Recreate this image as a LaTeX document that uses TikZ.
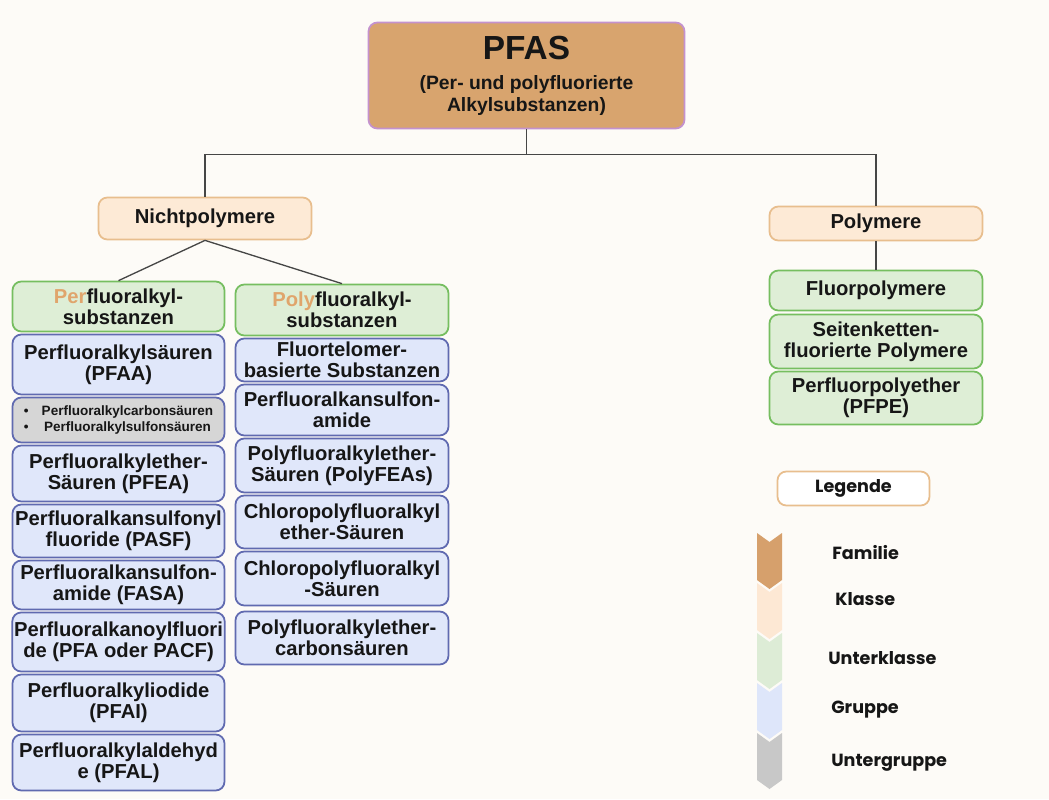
\documentclass[tikz,border=0pt]{standalone}
\usepackage{fontspec}
\setmainfont{Liberation Sans}
\newfontfamily\legfont{Poppins}

\definecolor{hgrund}{RGB}{253,251,247}
\definecolor{schrift}{RGB}{22,22,22}
\definecolor{akzent}{RGB}{224,165,108}
\definecolor{linie}{RGB}{70,70,70}
\definecolor{famfill}{RGB}{216,164,110}
\definecolor{famrand}{RGB}{196,146,206}
\definecolor{klfill}{RGB}{253,234,214}
\definecolor{klrand}{RGB}{232,190,142}
\definecolor{ukfill}{RGB}{222,238,214}
\definecolor{ukrand}{RGB}{118,190,96}
\definecolor{grfill}{RGB}{224,231,250}
\definecolor{grrand}{RGB}{96,106,176}
\definecolor{ugfill}{RGB}{214,214,214}
\definecolor{legfam}{RGB}{214,160,108}
\definecolor{legkl}{RGB}{253,232,212}
\definecolor{leguk}{RGB}{221,236,214}
\definecolor{leggr}{RGB}{222,230,250}
\definecolor{legug}{RGB}{200,200,200}

\tikzset{
    kasten/.style={rectangle, rounded corners=5pt, line width=1pt, align=center,
        inner sep=1pt, text=schrift, font=\fontsize{11.5}{12}\selectfont\bfseries},
    familie/.style={kasten, fill=famfill, draw=famrand, minimum width=6.32cm,
        font=\fontsize{11}{12.5}\selectfont\bfseries},
    klasse/.style={kasten, fill=klfill, draw=klrand, minimum width=4.26cm},
    unterklasse/.style={kasten, fill=ukfill, draw=ukrand},
    gruppe/.style={kasten, fill=grfill, draw=grrand},
    untergruppe/.style={kasten, fill=ugfill, draw=grrand},
    links/.style={minimum width=4.24cm},
    mitte/.style={minimum width=4.26cm},
    rechts/.style={minimum width=4.26cm},
    verbinder/.style={draw=linie, line width=0.75pt},
    legtext/.style={text=schrift, inner sep=0pt, font=\legfont\bfseries\fontsize{10}{12}\selectfont},
}

\begin{document}
\begin{tikzpicture}[x=0.02cm, y=-0.02cm]
        \fill[hgrund] (0,0) rectangle (1049,799);
        \useasboundingbox (0,0) rectangle (1049,799);

        \node[familie, minimum height=2.12cm] (pfas) at (526.5,75.5)
            {{\fontsize{19}{22}\selectfont PFAS}\\[4.5pt](Per- und polyfluorierte\\Alkylsubstanzen)};

        \node[klasse, minimum height=0.84cm] (nicht) at (205,218.5) {Nichtpolymere};
        \node[klasse, minimum height=0.68cm] (polym) at (876,223.5) {Polymere};

        \node[unterklasse, links, minimum height=1.00cm] (perfsub) at (118.5,306.5) {{\color{akzent}Per}fluoralkyl-\\substanzen};
        \node[gruppe, links, minimum height=1.20cm] (pfaa) at (118.5,364.5) {Perfluoralkylsäuren\\(PFAA)};
        \node[untergruppe, links, minimum height=0.90cm] (pfaaliste) at (118.5,420)
            {\fontsize{7.7}{9.3}\selectfont\begin{tabular}{@{}l@{\hspace{7.5pt}}c@{}}
            \textbullet & Perfluoralkylcarbonsäuren\\
            \textbullet & Perfluoralkylsulfonsäuren
            \end{tabular}};
        \node[gruppe, links, minimum height=1.12cm] (pfea) at (118.5,473.5) {Perfluoralkylether-\\Säuren (PFEA)};
        \node[gruppe, links, minimum height=1.06cm] (pasf) at (118.5,531) {Perfluoralkansulfonyl\\fluoride (PASF)};
        \node[gruppe, links, minimum height=0.98cm] (fasa) at (118.5,585) {Perfluoralkansulfon-\\amide (FASA)};
        \node[gruppe, links, minimum height=1.18cm] (pacf) at (118.5,642) {Perfluoralkanoylfluori\\de (PFA oder PACF)};
        \node[gruppe, links, minimum height=1.14cm] (pfai) at (118.5,703) {Perfluoralkyliodide\\(PFAI)};
        \node[gruppe, links, minimum height=1.12cm] (pfal) at (118.5,762.5) {Perfluoralkylaldehyd\\e (PFAL)};

        \node[unterklasse, mitte, minimum height=1.02cm] (polysub) at (342,310) {{\color{akzent}Poly}fluoralkyl-\\substanzen};
        \node[gruppe, mitte, minimum height=0.86cm] (ftel) at (342,360) {Fluortelomer-\\basierte Substanzen};
        \node[gruppe, mitte, minimum height=1.02cm] (pfasa) at (342,410) {Perfluoralkansulfon-\\amide};
        \node[gruppe, mitte, minimum height=1.08cm] (polyfea) at (342,465.5) {Polyfluoralkylether-\\Säuren (PolyFEAs)};
        \node[gruppe, mitte, minimum height=1.06cm] (clether) at (342,522) {Chloropolyfluoralkyl\\ether-Säuren};
        \node[gruppe, mitte, minimum height=1.08cm] (clsaeure) at (342,578.5) {Chloropolyfluoralkyl\\-Säuren};
        \node[gruppe, mitte, minimum height=1.06cm] (pfecarb) at (342,638) {Polyfluoralkylether-\\carbonsäuren};

        \node[unterklasse, rechts, minimum height=0.80cm] (fluorp) at (876,290.5) {Fluorpolymere};
        \node[unterklasse, rechts, minimum height=1.08cm] (seitenk) at (876,341.5) {Seitenketten-\\fluorierte Polymere};
        \node[unterklasse, rechts, minimum height=1.06cm] (pfpe) at (876,398) {Perfluorpolyether\\(PFPE)};

        \draw[verbinder] (pfas.south) -- ++(0,25) coordinate (gabel);
        \draw[verbinder] (nicht.north) |- (gabel) -| (polym.north);
        \draw[verbinder] (perfsub.north) -- (nicht.south) -- (polysub.north);
        \draw[verbinder] (polym.south) -- (fluorp.north);

        \node[kasten, fill=white, draw=klrand, minimum width=3.04cm, minimum height=0.68cm,
            font=\legfont\bfseries\fontsize{10}{12}\selectfont] (legende) at (853.5,488.5) {Legende};
        \foreach \t/\farbe in {533/legfam, 583/legkl, 633/leguk, 683/leggr, 733/legug}
            \fill[\farbe] (757,\t) -- (769.5,\t+9) -- (782,\t) -- (782,\t+47) -- (769.5,\t+56) -- (757,\t+47) -- cycle;
        \foreach \y/\x/\name in {553/832/Familie, 599/835/Klasse, 658/828/Unterklasse, 710/831/Gruppe, 763/831/Untergruppe}
            \node[legtext, anchor=west] (leg-\name) at (\x,\y) {\name};
    \end{tikzpicture}
\end{document}
